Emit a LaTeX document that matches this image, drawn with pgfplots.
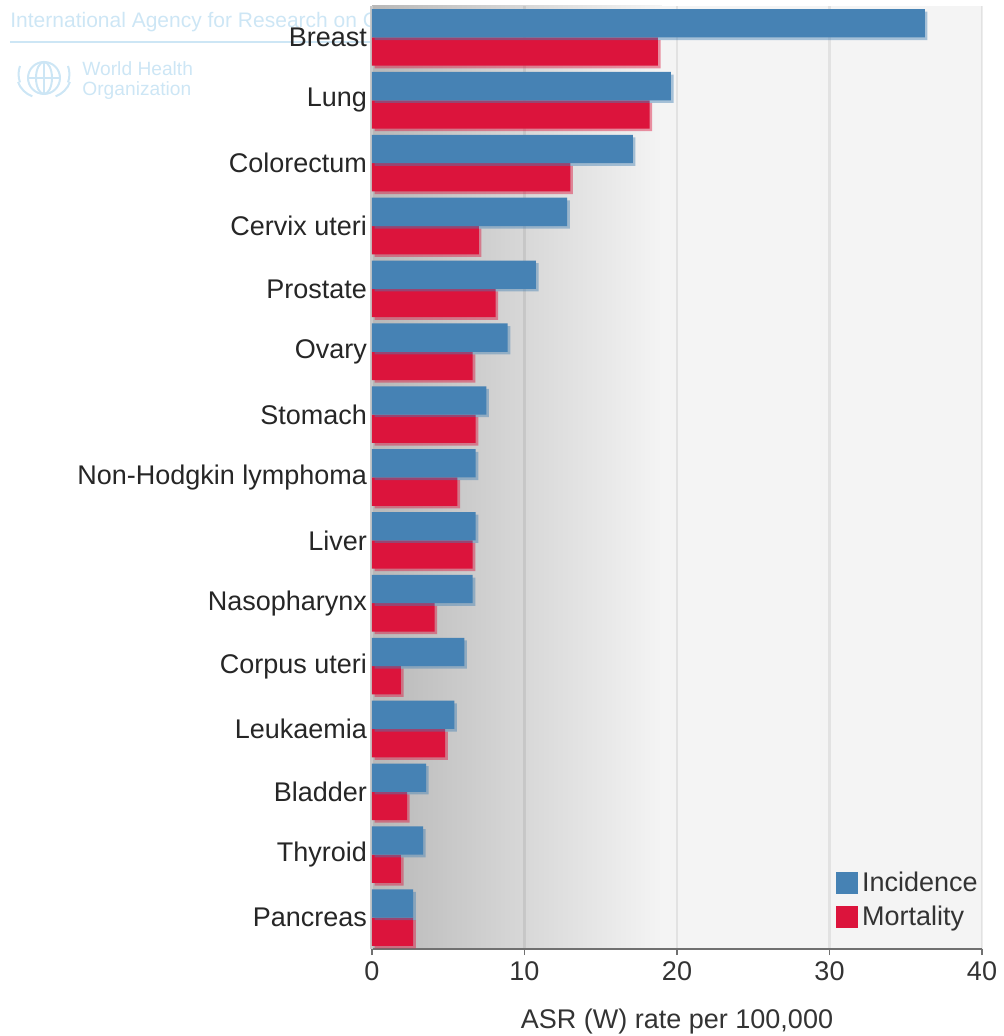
\documentclass[border=0pt]{standalone}
\usepackage{fontspec}
\setmainfont{Liberation Sans}
\usepackage{pgfplots}
\pgfplotsset{compat=1.18}
\usepackage{pgfplotstable}
\usetikzlibrary{shadows}
\definecolor{inc}{RGB}{70,130,180}
\definecolor{mort}{RGB}{220,20,60}
\definecolor{wm}{RGB}{205,230,245}
\definecolor{bgL}{RGB}{184,184,184}
\definecolor{bgR}{RGB}{244,244,244}
\definecolor{txt}{RGB}{51,51,51}
\definecolor{axdark}{RGB}{112,112,112}
\definecolor{axlight}{RGB}{200,200,200}

\pgfplotstableread{
y inc mort
0 2.7 2.7
1 3.35 1.9
2 3.55 2.3
3 5.4 4.8
4 6.05 1.9
5 6.6 4.1
6 6.8 6.6
7 6.8 5.6
8 7.5 6.8
9 8.9 6.6
10 10.75 8.1
11 12.8 7.0
12 17.1 13.0
13 19.6 18.2
14 36.25 18.75
}\data

\begin{document}
\begin{tikzpicture}
\useasboundingbox (-186pt,-43.5pt) rectangle (315.5pt,474.5pt);
% watermark
\node[anchor=base west, inner sep=0pt, text=wm, font=\fontsize{10.5}{12}\selectfont] at (-181pt,460.5pt) {International Agency for Research on Cancer};
\draw[wm, line width=0.7pt] (-181pt,453.5pt) -- (0pt,453.5pt);
\begin{scope}[shift={(-164pt,435.5pt)}, wm, line width=1pt]
  \draw (0,0) circle (8pt);
  \draw (0,0) ellipse (4pt and 8pt);
  \draw (-8pt,0) -- (8pt,0);
  \draw (0,-8pt) -- (0,8pt);
  \draw (-13pt,-2pt) arc (200:250:12pt);
  \draw (13pt,-2pt) arc (-20:-70:12pt);
  \draw (-12pt,6pt) arc (160:200:12pt);
  \draw (12pt,6pt) arc (20:-20:12pt);
\end{scope}
\node[anchor=base west, inner sep=0pt, text=wm, font=\fontsize{9.6}{11}\selectfont] at (-145pt,436.5pt) {World Health};
\node[anchor=base west, inner sep=0pt, text=wm, font=\fontsize{9.6}{11}\selectfont] at (-145pt,426.5pt) {Organization};
% plot background
\shade[left color=bgL, right color=bgR] (0pt,0pt) rectangle (144.9pt,471.5pt);
\fill[bgR] (144.8pt,0pt) rectangle (305pt,471.5pt);
\begin{axis}[
  at={(0pt,0pt)}, anchor=south west,
  scale only axis, width=305pt, height=471.5pt,
  xmin=0, xmax=40, ymin=-0.5, ymax=14.5,
  xtick={0,10,20,30,40},
  ytick={0,...,14},
  yticklabels={Pancreas,Thyroid,Bladder,Leukaemia,Corpus uteri,Nasopharynx,Liver,Non-Hodgkin lymphoma,Stomach,Ovary,Prostate,Cervix uteri,Colorectum,Lung,Breast},
  axis x line*=bottom, axis y line*=left,
  x axis line style={draw=axdark, line width=1.1pt, -},
  y axis line style={draw=axlight, line width=1.5pt, -},
  xmajorgrids, grid style={black, opacity=0.07, line width=1.2pt},
  ytick style={draw=none},
  xtick style={draw=axdark, line width=0.8pt},
  major tick length=3pt, tick align=outside,
  tick label style={font=\fontsize{13.5}{16}\selectfont, text=txt},
  yticklabel style={xshift=4pt, text=black!85},
  /pgf/number format/assume math mode=true,
  xlabel={ASR (W) rate per 100,000},
  xlabel style={font=\fontsize{13.5}{16}\selectfont, text=txt, yshift=-7pt},
  clip=false,
  legend image code/.code={\fill[#1, draw=none] (0pt,-5.5pt) rectangle (11pt,5.5pt);},
  legend cell align=left,
  legend style={at={(1,0)}, anchor=south east, draw=none, fill=none,
    font=\fontsize{13.5}{16}\selectfont, text=txt, inner sep=0pt,
    xshift=0pt, yshift=8pt, row sep=2pt},
]
\addplot[xbar, bar width=0.45, bar shift=-0.225, fill=mort, draw=none,
  drop shadow={shadow xshift=1.3pt, shadow yshift=-1.3pt, fill=mort, opacity=0.45}, forget plot]
  table[x=mort, y=y]{\data};
\addplot[xbar, bar width=0.45, bar shift=0.225, fill=inc, draw=none,
  drop shadow={shadow xshift=1.3pt, shadow yshift=-1.3pt, fill=inc, opacity=0.45}, forget plot]
  table[x=inc, y=y]{\data};
\addlegendimage{fill=inc, draw=none}
\addlegendentry{Incidence}
\addlegendimage{fill=mort, draw=none}
\addlegendentry{Mortality}
\end{axis}
\end{tikzpicture}
\end{document}
